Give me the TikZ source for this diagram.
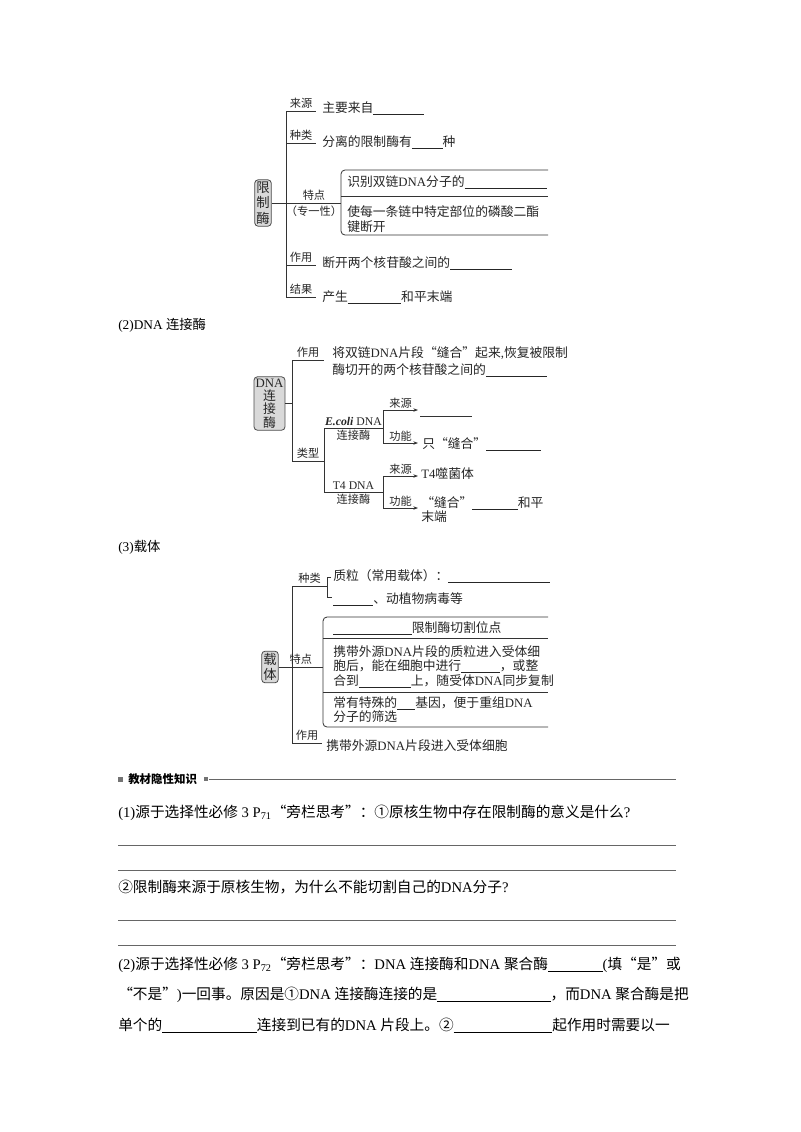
\documentclass[tikz,border=0pt]{standalone}
\usepackage{fontspec}
\setmainfont{Liberation Serif}
\newfontfamily\cjk{Noto Sans CJK SC}
\usetikzlibrary{arrows.meta}

% Chinese characters switch to the CJK font by themselves
\XeTeXinterchartokenstate=1
\newXeTeXintercharclass\hanclass
\newcount\hancode
\def\sethan#1#2{\hancode=#1 \loop\XeTeXcharclass\hancode=\hanclass\ifnum\hancode<#2 \advance\hancode by 1 \repeat}
\sethan{"3000}{"303F}
\sethan{"4E00}{"9FFF}
\sethan{"FF00}{"FFEF}
\sethan{"2460}{"2473}
\sethan{"201C}{"201D}
\XeTeXinterchartoks 0 \hanclass = {\cjk}
\XeTeXinterchartoks 4095 \hanclass = {\cjk}
\XeTeXinterchartoks \hanclass 0 = {\rmfamily}
\XeTeXinterchartoks \hanclass 4095 = {\rmfamily}

\newcommand\blank[1]{\rule[-1.5pt]{#1}{0.5pt}}

\tikzset{
  ln/.style={line width=0.6pt, draw=black!80},
  arr/.style={ln, -{Stealth[length=3.5pt,width=2.6pt]}},
  lbl/.style={inner sep=0pt, text=black!85, font=\fontsize{8.4}{10}\selectfont},
  txt/.style={inner sep=0pt, anchor=west, align=left, text=black!85, font=\fontsize{9.6}{11.25}\selectfont},
  keybox/.style={draw=black!70, fill=black!15, rounded corners=2.5pt, line width=0.6pt,
    inner xsep=1.2pt, inner ysep=1.5pt, align=center, text=black!85},
  rulel/.style={line width=0.75pt, draw=black!60},
  body/.style={inner sep=0pt, anchor=west, font=\fontsize{11}{14}\selectfont},
}

\begin{document}
\begin{tikzpicture}[x=0.75pt, y=-0.75pt]
\useasboundingbox[fill=white] (0,0) rectangle (800,1132);

% (1) 限制酶
\node[keybox, font=\fontsize{10}{11.5}\selectfont] (xzm) at (263,203) {限\\制\\酶};
\coordinate (a0) at (286,111);
\coordinate (a2) at (286,143);
\coordinate (a3) at (286,265);
\coordinate (a1) at (286,297);
\coordinate (ab) at (341,203);
\draw[ln] (a0) -- (a1);
\draw[ln] (a0) -- ++(30,0) node[lbl, midway, above=1.5pt] (aly) {来源};
\draw[ln] (a2) -- ++(30,0) node[lbl, midway, above=1.5pt] (azl) {种类};
\draw[ln] (a3) -- ++(30,0) node[lbl, midway, above=1.5pt] (azy) {作用};
\draw[ln] (a1) -- ++(30,0) node[lbl, midway, above=1.5pt] (ajg) {结果};
\draw[ln] (xzm.east) -- (ab)
  node[lbl, pos=0.61, above=2pt] (atd) {特点}
  node[lbl, pos=0.61, below=2pt] (azyx) {（专一性）};
\draw[ln, rounded corners=3pt] (548,170) -| (ab) |- (548,235);
\draw[ln] (341,196) -- (548,196);
\node[txt] (aly1) at (322,108) {主要来自\blank{38pt}};
\node[txt] (azl1) at (322,142) {分离的限制酶有\blank{23pt}种};
\node[txt] (atd1) at (347,182) {识别双链DNA分子的\blank{62pt}};
\node[txt] (atd2) at (347,219.5) {使每一条链中特定部位的磷酸二酯\\键断开};
\node[txt] (azy1) at (322,263) {断开两个核苷酸之间的\blank{46pt}};
\node[txt] (ajg1) at (322,297) {产生\blank{40pt}和平末端};

% (2) DNA连接酶
\node[body, font=\fontsize{10}{12}\selectfont] (t2) at (118,325) {(2)DNA 连接酶};
\node[keybox, font=\fontsize{9.6}{10}\selectfont] (ljm) at (269.5,403.5) {DNA\\连\\接\\酶};
\coordinate (b0) at (292,360);
\coordinate (b1) at (292,461);
\coordinate (bc0) at (324,428);
\coordinate (bc1) at (324,492);
\draw[ln] (b0) -- (b1);
\draw[ln] (ljm.east) -- (ljm.east -| b0);
\draw[ln] (b0) -- ++(32,0) node[lbl, midway, above=1.5pt] (bzy) {作用};
\draw[ln] (b1) -- (bc0 |- b1) node[lbl, midway, above=1.5pt] (blx) {类型};
\draw[ln] (bc0) -- (bc1);
\draw[ln] (bc0) -- ++(59,0) coordinate (bd0)
  node[lbl, midway, above=1.5pt, font=\fontsize{8.8}{10}\selectfont] (beco) {\textbf{\textit{E.coli}} DNA}
  node[lbl, midway, below=1.5pt] (becoz) {连接酶};
\draw[ln] (bc1) -- ++(59,0) coordinate (bd1)
  node[lbl, midway, above=1.5pt, font=\fontsize{8.8}{10}\selectfont] (bt4) {T4 DNA}
  node[lbl, midway, below=1.5pt] (bt4z) {连接酶};
\draw[ln] (bd0 |- 0,410) -- (bd0 |- 0,443);
\draw[ln] (bd1 |- 0,476) -- (bd1 |- 0,508);
\draw[arr] (bd0 |- 0,410) -- ++(35,0) node[lbl, midway, above=1pt] (bely) {来源};
\draw[arr] (bd0 |- 0,443) -- ++(35,0) node[lbl, midway, above=1pt] (begn) {功能};
\draw[arr] (bd1 |- 0,476) -- ++(35,0) node[lbl, midway, above=1pt] (bt4ly) {来源};
\draw[arr] (bd1 |- 0,508) -- ++(35,0) node[lbl, midway, above=1pt] (bt4gn) {功能};
\node[txt, font=\fontsize{9.6}{12.75}\selectfont] (bzy1) at (332,361.5)
  {将双链DNA片段“缝合”起来,恢复被限制\\酶切开的两个核苷酸之间的\blank{46pt}};
\coordinate (bely1) at (420,416);
\draw[ln] (bely1) -- ++(52,0);
\node[txt] (begn1) at (422,444) {只“缝合”\blank{41pt}};
\node[txt] (bt4ly1) at (421,474) {T4噬菌体};
\node[txt, font=\fontsize{9.6}{10.5}\selectfont] (bt4gn1) at (421,510) {“缝合”\blank{34pt}和平\\末端};

% (3) 载体
\node[body, font=\fontsize{10}{12}\selectfont] (t3) at (118,547) {(3)载体};
\node[keybox, font=\fontsize{10}{11.5}\selectfont] (zt) at (270,667) {载\\体};
\coordinate (c0) at (292,586);
\coordinate (c1) at (292,743);
\coordinate (cb) at (323,667);
\draw[ln] (c0) -- (c1);
\draw[ln] (c0) -- ++(35,0) node[lbl, midway, above=1.5pt] (czl) {种类};
\draw[ln] (331,577) -- (327,577) -- (327,597) -- (332,597);
\draw[ln] (c1) -- ++(30,0) node[lbl, midway, above=1.5pt] (czy) {作用};
\draw[ln] (zt.east) -- (cb) node[lbl, midway, above=1.5pt] (ctd) {特点};
\draw[ln, rounded corners=3pt] (548,617) -| (cb) |- (548,727);
\draw[ln] (323,638) -- (548,638);
\draw[ln] (323,692) -- (548,692);
\node[txt] (czl1) at (333,576) {质粒（常用载体）：\blank{76pt}};
\node[txt] (czl2) at (333,599) {\blank{30pt}、动植物病毒等};
\node[txt] (ctd1) at (333,628) {\blank{59pt}限制酶切割位点};
\node[txt, font=\fontsize{9.6}{10.9}\selectfont] (ctd2) at (333,666.5)
  {携带外源DNA片段的质粒进入受体细\\胞后，能在细胞中进行\blank{29pt}，或整\\合到\blank{39pt}上，随受体DNA同步复制};
\node[txt, font=\fontsize{9.6}{10.5}\selectfont] (ctd3) at (333,710)
  {常有特殊的\blank{13.5pt}基因，便于重组DNA\\分子的筛选};
\node[txt] (czy1) at (326,746) {携带外源DNA片段进入受体细胞};

% 教材隐性知识
\fill[black!55] (117.5,776.5) rectangle ++(5,5);
\node[body, font=\bfseries\fontsize{8.6}{10}\selectfont] (jc) at (128,779) {教材隐性知识};
\fill[black!55] (203.5,777) rectangle ++(4,4);
\draw[rulel] (209,779) -- (676,779);
\node[body] (q1) at (118,813) {(1)源于选择性必修 3 P\textsubscript{71}“旁栏思考”：①原核生物中存在限制酶的意义是什么?};
\draw[rulel] (118,845) -- (676,845);
\draw[rulel] (118,870) -- (676,870);
\node[body] (q2) at (118,887) {②限制酶来源于原核生物，为什么不能切割自己的DNA分子?};
\draw[rulel] (118,920) -- (676,920);
\draw[rulel] (118,945) -- (676,945);
\node[body] (q3) at (118,965) {(2)源于选择性必修 3 P\textsubscript{72}“旁栏思考”：DNA 连接酶和DNA 聚合酶\blank{41pt}(填“是”或};
\node[body] (q4) at (118,995) {“不是”)一回事。原因是①DNA 连接酶连接的是\blank{85pt}，而DNA 聚合酶是把};
\node[body] (q5) at (118,1025) {单个的\blank{71pt}连接到已有的DNA 片段上。②\blank{74pt}起作用时需要以一};
\end{tikzpicture}
\end{document}
